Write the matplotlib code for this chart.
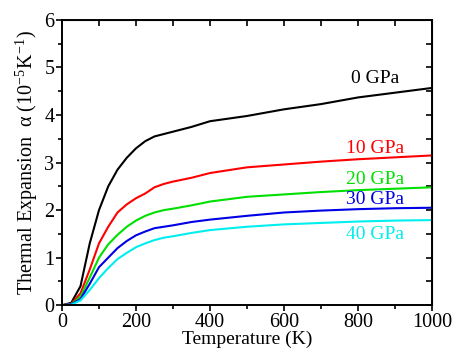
import matplotlib
matplotlib.use('Agg')
import matplotlib.pyplot as plt
from matplotlib.ticker import MultipleLocator

plt.rcParams['font.family'] = 'Liberation Serif'
plt.rcParams['mathtext.fontset'] = 'stix'

# temperature grid (K)
temp = [0, 25, 50, 75, 100, 125, 150, 175, 200, 225, 250, 275, 300,
        350, 400, 500, 600, 700, 800, 900, 1000]

# thermal expansion (1e-5 / K) per pressure
alpha_0 = [0, 0.05, 0.4, 1.3, 2.0, 2.5, 2.85, 3.1, 3.3, 3.45, 3.55, 3.6, 3.65,
           3.75, 3.87, 3.98, 4.12, 4.23, 4.37, 4.47, 4.57]
alpha_10 = [0, 0.03, 0.25, 0.75, 1.3, 1.65, 1.95, 2.12, 2.25, 2.35, 2.48, 2.55, 2.6,
            2.68, 2.78, 2.9, 2.96, 3.02, 3.07, 3.11, 3.15]
alpha_20 = [0, 0.02, 0.18, 0.58, 1.0, 1.28, 1.48, 1.65, 1.78, 1.88, 1.95, 2.0, 2.03,
            2.1, 2.18, 2.28, 2.33, 2.38, 2.42, 2.45, 2.48]
alpha_30 = [0, 0.02, 0.13, 0.45, 0.8, 1.0, 1.2, 1.35, 1.47, 1.55, 1.62, 1.65, 1.68,
            1.75, 1.8, 1.88, 1.95, 1.99, 2.02, 2.04, 2.05]
alpha_40 = [0, 0.01, 0.1, 0.32, 0.57, 0.78, 0.97, 1.1, 1.22, 1.3, 1.37, 1.42, 1.45,
            1.52, 1.58, 1.65, 1.7, 1.73, 1.76, 1.78, 1.79]

labels = ['0 GPa', '10 GPa', '20 GPa', '30 GPa', '40 GPa']
colors = ['black', '#ff0000', '#00e000', '#0000e6', '#00eeee']
label_y = [4.77, 3.3, 2.64, 2.22, 1.49]

fig = plt.figure(figsize=(4.64, 3.5), dpi=100)
ax = fig.add_axes([0.1336, 0.128, 0.7974, 0.815])

series = [alpha_0, alpha_10, alpha_20, alpha_30, alpha_40]
for ys, c, lab, ly in zip(series, colors, labels, label_y):
    ax.plot(temp, ys, color=c, lw=1.5)
    ax.text(845, ly, lab, color=c, fontsize=14, ha='center', va='center')

ax.set_xlim(0, 1000)
ax.set_ylim(0, 6)
ax.xaxis.set_major_locator(MultipleLocator(200))
ax.xaxis.set_minor_locator(MultipleLocator(100))
ax.yaxis.set_major_locator(MultipleLocator(1))
ax.yaxis.set_minor_locator(MultipleLocator(0.5))
ax.tick_params(which='both', direction='out', labelsize=14.5, width=1.2, pad=1.5)
ax.tick_params(which='major', length=4)
ax.tick_params(which='minor', length=3)
for s in ax.spines.values():
    s.set_linewidth(1.4)

# inward ticks on top and right
axt = ax.secondary_xaxis('top')
axt.xaxis.set_major_locator(MultipleLocator(100))
axt.tick_params(direction='in', length=4, labeltop=False, width=1.2)
axr = ax.secondary_yaxis('right')
axr.yaxis.set_major_locator(MultipleLocator(0.5))
axr.tick_params(direction='in', length=4, labelright=False, width=1.2)

ax.set_xlabel('Temperature (K)', fontsize=14, labelpad=-0.5)
ax.set_ylabel('Thermal Expansion  α (10$^{\\mathregular{-5}}$K$^{\\mathregular{-1}}$)',
              fontsize=14.5, labelpad=3)

fig.savefig('out.png', dpi=100)
